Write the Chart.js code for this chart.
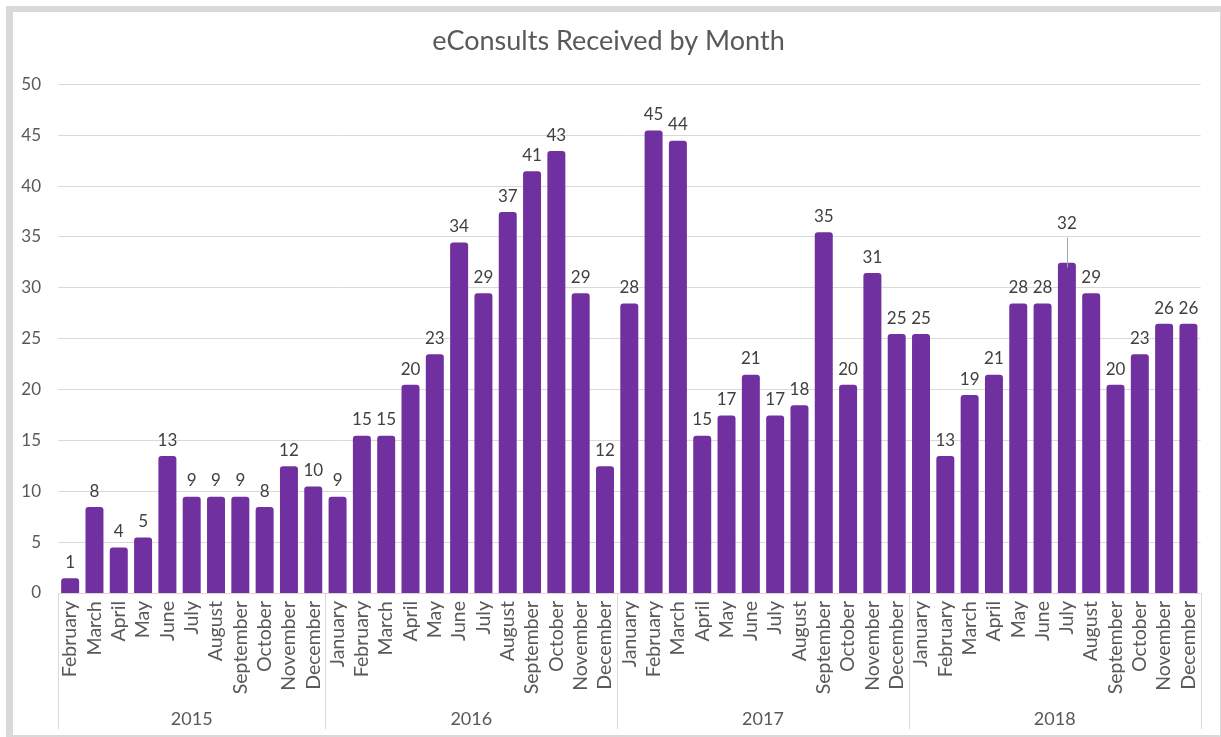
<!DOCTYPE html>
<html>
<head>
<meta charset="utf-8">
<title>eConsults Received by Month</title>
<script src="https://cdn.jsdelivr.net/npm/chart.js@4.4.1/dist/chart.umd.min.js"></script>
<style>
  html, body { margin: 0; padding: 0; background: #fff; }
  #frame {
    position: absolute; left: 6px; top: 6px;
    width: 1215px; height: 731px; box-sizing: border-box;
    border-style: solid; border-color: #d9d9d9;
    border-width: 6px 1px 2px 7px;
  }
  #wrap { position: relative; width: 1207px; height: 723px; }
</style>
</head>
<body>
<div id="frame"><div id="wrap"><canvas id="chart"></canvas></div></div>
<script>
const monthNames = ['January', 'February', 'March', 'April', 'May', 'June',
    'July', 'August', 'September', 'October', 'November', 'December'];
const years = ['2015', '2016', '2017', '2018'];

// 2015 starts in February
const counts2015 = [1, 8, 4, 5, 13, 9, 9, 9, 8, 12, 10];
const counts2016 = [9, 15, 15, 20, 23, 34, 29, 37, 41, 43, 29, 12];
const counts2017 = [28, 45, 44, 15, 17, 21, 17, 18, 35, 20, 31, 25];
const counts2018 = [25, 13, 19, 21, 28, 28, 32, 29, 20, 23, 26, 26];

const yMax = 50;
const yStep = 5;

const purple = '#7030A0';
const textGray = '#595959';
const labelGray = '#404040';
const lineGray = '#d9d9d9';
const font = 'Lato';

const labels = [];
const values = [];
const groups = [];
[counts2015, counts2016, counts2017, counts2018].forEach((counts, i) => {
    const first = 12 - counts.length;
    groups.push({ year: years[i], start: labels.length, count: counts.length });
    counts.forEach((v, j) => {
        labels.push(monthNames[first + j]);
        values.push(v);
    });
});

// the July 2018 label sits higher, with a leader line down to its bar
const raisedLabel = { index: 41, lift: 23 };
const axisHeight = 136;

const barLabels = {
    id: 'barLabels',
    afterDatasetsDraw(chart) {
        const ctx = chart.ctx;
        const meta = chart.getDatasetMeta(0);
        ctx.save();
        ctx.font = `17px ${font}`;
        ctx.fillStyle = labelGray;
        ctx.textAlign = 'center';
        ctx.textBaseline = 'alphabetic';
        meta.data.forEach((bar, i) => {
            const lift = i === raisedLabel.index ? raisedLabel.lift : 0;
            const ty = bar.y - 15 - lift;
            if (lift) {
                ctx.strokeStyle = '#a6a6a6';
                ctx.lineWidth = 1;
                ctx.beginPath();
                ctx.moveTo(Math.round(bar.x) + 0.5, ty + 8);
                ctx.lineTo(Math.round(bar.x) + 0.5, bar.y);
                ctx.stroke();
            }
            ctx.fillText(String(values[i]), bar.x, ty);
        });
        ctx.restore();
    }
};

const yearGroups = {
    id: 'yearGroups',
    afterDraw(chart) {
        const ctx = chart.ctx;
        const x = chart.scales.x;
        const area = chart.chartArea;
        const step = x.width / labels.length;
        const top = area.bottom;
        const bottom = area.bottom + axisHeight;
        ctx.save();
        ctx.strokeStyle = lineGray;
        ctx.lineWidth = 1;
        ctx.font = `18px ${font}`;
        ctx.fillStyle = textGray;
        ctx.textAlign = 'center';
        ctx.textBaseline = 'middle';
        const vline = px => {
            const p = Math.round(px) + 0.5;
            ctx.beginPath();
            ctx.moveTo(p, top);
            ctx.lineTo(p, bottom);
            ctx.stroke();
        };
        groups.forEach((g, i) => {
            const left = x.getPixelForValue(g.start) - step / 2;
            const right = x.getPixelForValue(g.start + g.count - 1) + step / 2;
            vline(left);
            if (i === groups.length - 1) vline(right);
            ctx.fillText(g.year, (left + right) / 2, area.bottom + 126);
        });
        ctx.restore();
    }
};

Chart.defaults.font.family = font;
Chart.defaults.color = textGray;

new Chart(document.getElementById('chart'), {
    type: 'bar',
    data: {
        labels: labels,
        datasets: [{
            data: values,
            backgroundColor: purple,
            borderWidth: 0,
            borderRadius: { topLeft: 3, topRight: 3 },
            inflateAmount: 4.7,
            barPercentage: 0.353,
            categoryPercentage: 1,
            clip: 0
        }]
    },
    options: {
        animation: false,
        responsive: true,
        maintainAspectRatio: false,
        layout: { padding: { top: 0, left: 0, right: 16, bottom: 6 } },
        plugins: {
            legend: { display: false },
            tooltip: { enabled: false },
            title: {
                display: true,
                text: 'eConsults Received by Month',
                color: textGray,
                font: { size: 27, weight: 'normal' },
                padding: { top: 13, bottom: 27 }
            }
        },
        scales: {
            x: {
                grid: { display: false, drawTicks: false },
                border: { display: false },
                ticks: {
                    autoSkip: false,
                    minRotation: 90,
                    maxRotation: 90,
                    padding: 8,
                    color: textGray,
                    font: { size: 19.5 }
                },
                afterFit(scale) { scale.height = axisHeight; }
            },
            y: {
                min: 0,
                max: yMax,
                grid: { color: lineGray, drawTicks: false },
                border: { display: false },
                ticks: {
                    stepSize: yStep,
                    padding: 17,
                    color: textGray,
                    font: { size: 17 }
                },
                afterFit(scale) { scale.width = 45; }
            }
        }
    },
    plugins: [barLabels, yearGroups]
});
</script>
</body>
</html>
